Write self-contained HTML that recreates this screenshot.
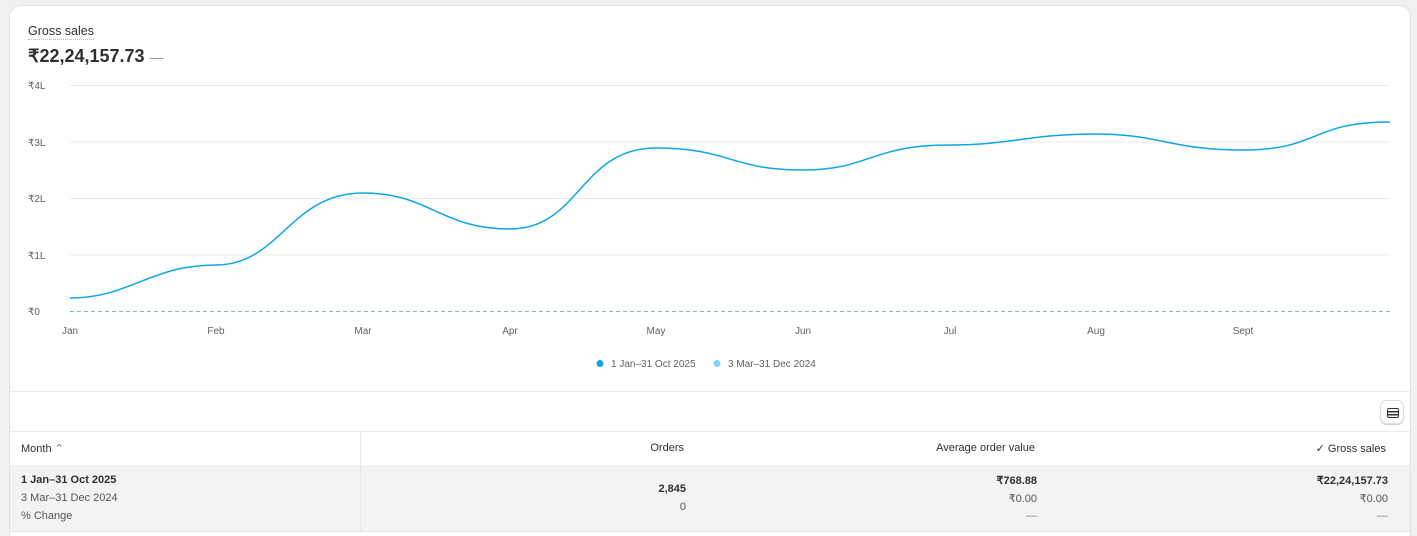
<!DOCTYPE html>
<html style="height:536px;overflow:hidden"><head><meta charset="utf-8"><style>
body{margin:0;width:1417px;height:536px;background:#f1f1f1;font-family:"Liberation Sans",sans-serif;overflow:hidden;position:relative;color:#303030}
.card{position:absolute;left:9px;top:5px;width:1402px;height:531px;background:#fff;border-radius:12px 12px 0 0;border:1px solid #e3e3e3;border-bottom:none;box-sizing:border-box;overflow:hidden}
.abs{position:absolute}
.r{text-align:right}
</style></head><body>
<div class="card">
<div class="abs" style="left:18px;top:18px;font-size:12.5px;color:#303030;border-bottom:1px dotted #bbb;padding-bottom:1px">Gross sales</div>
<div class="abs" style="left:18px;top:40px;font-size:18px;font-weight:bold;color:#303030">₹22,24,157.73 <span style="font-weight:normal;color:#999;font-size:14px">—</span></div>
<svg class="abs" style="left:-10px;top:-6px" width="1417" height="390">
<g stroke="#ebebeb" stroke-width="1"><line x1="70" x2="1390" y1="85.5" y2="85.5"/><line x1="70" x2="1390" y1="142" y2="142"/><line x1="70" x2="1390" y1="198.5" y2="198.5"/><line x1="70" x2="1390" y1="255" y2="255"/></g>
<line x1="70" x2="1390" y1="311.5" y2="311.5" stroke="#7fb5c9" stroke-dasharray="4,3"/>
<g font-size="10" fill="#616161" font-family="Liberation Sans,sans-serif"><text x="28" y="89">₹4L</text><text x="28" y="146">₹3L</text><text x="28" y="202">₹2L</text><text x="28" y="259">₹1L</text><text x="28" y="315">₹0</text>
<g text-anchor="middle"><text x="70" y="334">Jan</text><text x="216" y="334">Feb</text><text x="363" y="334">Mar</text><text x="510" y="334">Apr</text><text x="656" y="334">May</text><text x="803" y="334">Jun</text><text x="950" y="334">Jul</text><text x="1096" y="334">Aug</text><text x="1243" y="334">Sept</text></g>
<text x="611" y="367">1 Jan–31 Oct 2025</text><text x="728" y="367">3 Mar–31 Dec 2024</text></g>
<circle cx="600" cy="363.5" r="3.5" fill="#0ea5e9"/><circle cx="717" cy="363.5" r="3.5" fill="#7dd3f0"/>
<path fill="none" stroke="#0ea5e9" stroke-width="1.5" d="M70,298 C130,298 150,265 216,265 C280,265 290,193 363,193 C430,193 440,229 510,229 C580,229 580,148 656,148 C730,148 730,170 803,170 C870,170 870,145 950,145 C1010,145 1030,134 1096,134 C1160,134 1170,150 1243,150 C1320,150 1310,122 1390,122"/>
</svg>
<div class="abs" style="left:0;top:385px;width:1402px;border-top:1px solid #ebebeb"></div>
<div class="abs" style="left:1370px;top:394px;width:24px;height:24px;border:1px solid #ddd;border-radius:7px;box-sizing:border-box;box-shadow:0 1px 1px #ccc">
<div class="abs" style="left:6px;top:7px;width:10px;height:8px;border:1.3px solid #303030;border-radius:2px;background:linear-gradient(#fff 2px,#303030 2px,#303030 3.3px,#fff 3.3px,#fff 5px,#303030 5px,#303030 6.3px,#fff 6.3px)"></div></div>
<div class="abs" style="left:0;top:425px;width:1402px;height:33px;border-top:1px solid #ebebeb;border-bottom:1px solid #e3e3e3;font-size:11px;color:#303030">
<div class="abs" style="left:11px;top:10px">Month <span style="color:#777">⌃</span></div>
<div class="abs" style="left:350px;top:0;height:33px;border-left:1px solid #ebebeb"></div>
<div class="abs r" style="right:728px;top:10px">Orders</div>
<div class="abs r" style="right:377px;top:10px">Average order value</div>
<div class="abs r" style="right:26px;top:10px">✓ Gross sales</div></div>
<div class="abs" style="left:0;top:459px;width:1402px;height:66px;background:#f3f3f3;border-bottom:1px solid #e3e3e3;font-size:11px">
<div class="abs" style="left:350px;top:0;height:66px;border-left:1px solid #e8e8e8"></div>
<div class="abs" style="left:11px;top:9px;font-weight:bold;color:#303030">1 Jan–31 Oct 2025</div>
<div class="abs" style="left:11px;top:27px;color:#555">3 Mar–31 Dec 2024</div>
<div class="abs" style="left:11px;top:45px;color:#555">% Change</div>
<div class="abs r" style="right:726px;top:18px;font-weight:bold">2,845</div>
<div class="abs r" style="right:726px;top:36px;color:#555">0</div>
<div class="abs r" style="right:375px;top:9px;font-weight:bold">₹768.88</div>
<div class="abs r" style="right:375px;top:27px;color:#555">₹0.00</div>
<div class="abs r" style="right:375px;top:45px;color:#888">—</div>
<div class="abs r" style="right:24px;top:9px;font-weight:bold">₹22,24,157.73</div>
<div class="abs r" style="right:24px;top:27px;color:#555">₹0.00</div>
<div class="abs r" style="right:24px;top:45px;color:#888">—</div></div>
</div>
</body></html>
